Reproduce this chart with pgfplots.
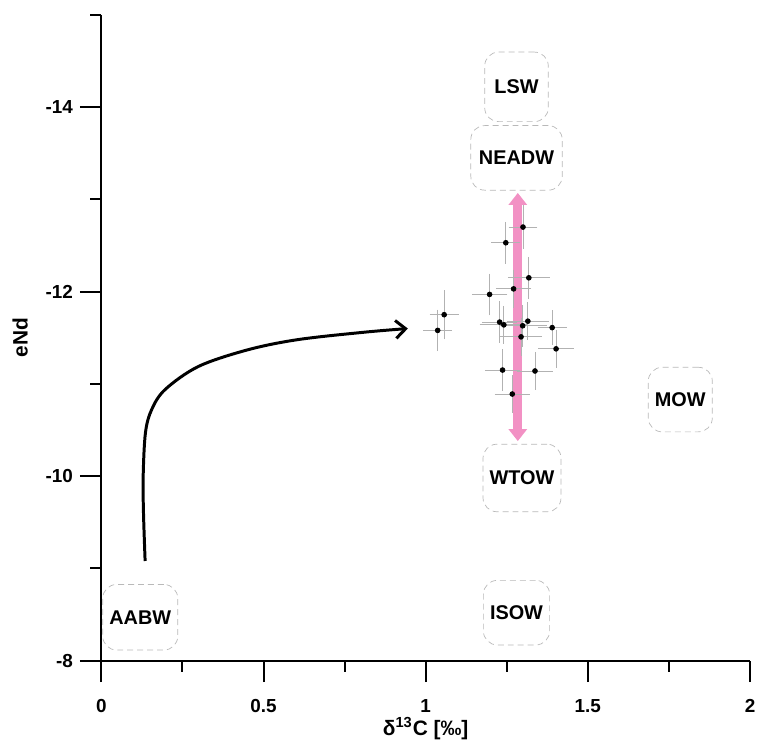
\documentclass[border=0pt]{standalone}
\usepackage{fontspec}
\setmainfont{Liberation Sans}
\usepackage{pgfplots}
\pgfplotsset{compat=1.18}
\usetikzlibrary{arrows.meta}
\definecolor{pinkarr}{RGB}{242,145,196}
\begin{document}
\begin{tikzpicture}
\begin{axis}[
    width=326.5pt, height=325pt, scale only axis,
    xmin=0, xmax=2, ymin=-15, ymax=-8,
    y dir=reverse,
    axis x line*=bottom, axis y line*=left,
    axis line style={line width=1pt},
    xtick={0,0.5,1,1.5,2}, xticklabels={0,0.5,1,1.5,2},
    minor xtick={0.25,0.75,1.25,1.75},
    ytick={-14,-12,-10,-8}, yticklabels={-14,-12,-10,-8},
    minor ytick={-15,-13,-11,-9},
    tick align=outside,
    major tick length=10.8pt, minor tick length=5.5pt,
    every tick/.style={black, line width=1pt},
    ticklabel style={font=\fontsize{9.5}{11}\selectfont\bfseries},
    xticklabel style={yshift=-5pt},
    xlabel={\textbf{δ\textsuperscript{13}C [‰]}},
    ylabel={\textbf{eNd}},
    label style={font=\fontsize{10.5}{12}\selectfont},
    xlabel style={yshift=4.5pt},
    ylabel style={yshift=2pt},
    clip=false,
]
\coordinate (bl) at (axis cs:0,-8);
\coordinate (tr) at (axis cs:2,-15);

% water mass boxes
\tikzset{wm/.style={draw=gray!55, densely dashed, line width=0.35pt,
  rounded corners=7pt, font=\fontsize{10}{12}\selectfont\bfseries, align=center}}
\node[wm, minimum width=32pt, minimum height=35pt] at (axis cs:1.28,-14.22) {LSW};
\node[wm, minimum width=46pt, minimum height=32.5pt] at (axis cs:1.28,-13.45) {NEADW};
\node[wm, minimum width=38pt, minimum height=34pt] at (axis cs:1.297,-9.98) {WTOW};
\node[wm, minimum width=32pt, minimum height=32.5pt] at (axis cs:1.28,-8.52) {ISOW};
\node[wm, minimum width=32pt, minimum height=32.5pt] at (axis cs:1.785,-10.83) {MOW};
\node[wm, minimum width=36pt, minimum height=33pt] at (axis cs:0.12,-8.47) {AABW};

% pink range arrow
\addplot[pinkarr, line width=4.5pt, {Triangle[length=6pt,width=9pt]}-{Triangle[length=6pt,width=9pt]}]
  coordinates {(1.284,-10.38) (1.284,-13.07)};

% black curved arrow
\addplot[black, line width=1.5pt, smooth, tension=0.55,
  -{Straight Barb[length=5pt,width=9pt,line width=1.5pt]}]
  coordinates {(0.135,-9.08) (0.130,-9.60) (0.129,-10.00) (0.136,-10.47) (0.155,-10.72)
               (0.197,-10.94) (0.30,-11.19) (0.452,-11.37) (0.606,-11.48) (0.81,-11.56) (0.945,-11.60)};

% samples with error bars
\addplot[only marks, mark=*, mark size=1.2pt, black,
  error bars/.cd, x dir=both, x explicit, y dir=both, y explicit,
  error bar style={gray!60, line width=0.4pt},
  error mark options={gray!60, mark size=4pt, line width=0.4pt}]
  coordinates {
  (1.300,-12.70) +- (0.02,0.15)
  (1.247,-12.53) +- (0.02,0.14)
  (1.318,-12.15) +- (0.04,0.14)
  (1.271,-12.03) +- (0.03,0.12)
  (1.197,-11.97) +- (0.03,0.14)
  (1.057,-11.75) +- (0.02,0.18)
  (1.037,-11.58) +- (0.02,0.14)
  (1.228,-11.67) +- (0.03,0.14)
  (1.241,-11.64) +- (0.05,0.12)
  (1.315,-11.68) +- (0.04,0.12)
  (1.299,-11.63) +- (0.05,0.14)
  (1.390,-11.61) +- (0.02,0.10)
  (1.294,-11.51) +- (0.04,0.12)
  (1.402,-11.38) +- (0.03,0.12)
  (1.237,-11.15) +- (0.03,0.14)
  (1.337,-11.14) +- (0.03,0.12)
  (1.267,-10.89) +- (0.03,0.12)
  };
\end{axis}
\pgfresetboundingbox
\path ([shift={(-51pt,-41pt)}]bl) rectangle ([shift={(3.5pt,7.5pt)}]tr);
\end{tikzpicture}
\end{document}
